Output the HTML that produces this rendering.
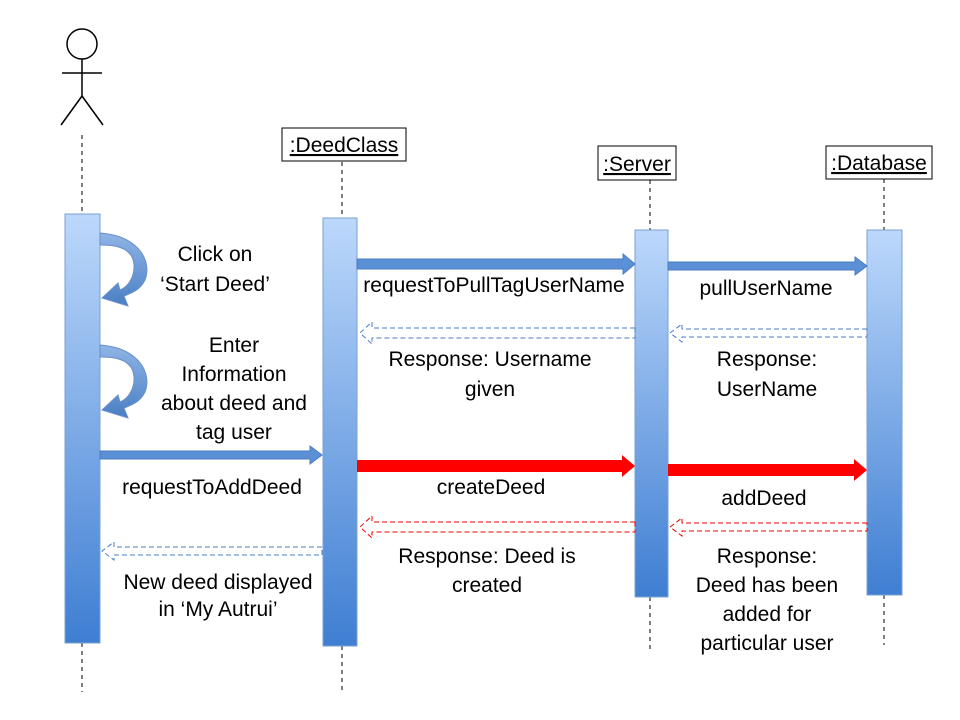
<!DOCTYPE html>
<html><head><style>
html,body{margin:0;padding:0;background:#fff;}
svg{display:block;}
text{font-family:"Liberation Sans",sans-serif;font-size:21px;fill:#000;}
</style></head><body>
<svg width="960" height="720" viewBox="0 0 960 720" xmlns="http://www.w3.org/2000/svg">
<defs>
<linearGradient id="bar" x1="0" y1="0" x2="0" y2="1">
<stop offset="0" stop-color="#bcd8fb"/><stop offset="1" stop-color="#3f7ed2"/>
</linearGradient>
<linearGradient id="arr" x1="0" y1="0" x2="0" y2="1">
<stop offset="0" stop-color="#8fb4e6"/><stop offset="1" stop-color="#4a7fc4"/>
</linearGradient>
</defs>
<!-- actor -->
<circle cx="82" cy="44" r="15" fill="#fff" stroke="#000" stroke-width="1.5"/>
<line x1="82" y1="59" x2="82" y2="96" stroke="#000" stroke-width="1.5"/>
<line x1="62" y1="73" x2="102" y2="73" stroke="#000" stroke-width="1.5"/>
<line x1="82" y1="96" x2="61" y2="125" stroke="#000" stroke-width="1.5"/>
<line x1="82" y1="96" x2="103" y2="125" stroke="#000" stroke-width="1.5"/>
<g stroke="#000" stroke-width="1" stroke-dasharray="4,4">
<line x1="82" y1="135" x2="82" y2="214"/><line x1="82" y1="643" x2="82" y2="692"/>
<line x1="342" y1="162" x2="342" y2="218"/><line x1="342" y1="646" x2="342" y2="692"/>
<line x1="650" y1="180" x2="650" y2="230"/><line x1="650" y1="597" x2="650" y2="650"/>
<line x1="884" y1="179" x2="884" y2="230"/><line x1="884" y1="595" x2="884" y2="645"/>
</g>
<!-- boxes -->
<rect x="282" y="128" width="124" height="33" fill="#fff" stroke="#000"/>
<text x="344" y="152" text-anchor="middle" text-decoration="underline">:DeedClass</text>
<rect x="598" y="146" width="78" height="34" fill="#fff" stroke="#000"/>
<text x="637" y="171" text-anchor="middle" text-decoration="underline">:Server</text>
<rect x="826" y="146" width="106" height="33" fill="#fff" stroke="#000"/>
<text x="879" y="170" text-anchor="middle" text-decoration="underline">:Database</text>
<!-- bars -->
<rect x="65" y="214" width="35" height="429" fill="url(#bar)" stroke="#7aa0d0"/>
<rect x="323" y="218" width="34" height="428" fill="url(#bar)" stroke="#7aa0d0"/>
<rect x="635" y="230" width="33" height="367" fill="url(#bar)" stroke="#7aa0d0"/>
<rect x="867" y="230" width="35" height="365" fill="url(#bar)" stroke="#7aa0d0"/>
<!-- self arrows -->
<path d="M100 233 C140 236 152 262 145 280 C140 290 132 293 124 296 L128 306 L102 298 L118 283 L120 290 C134 284 138 264 130 254 C123 246 112 245 100 245 Z" fill="url(#arr)" stroke="#6a90c8"/>
<path d="M100 345 C140 348 152 374 145 392 C140 402 132 405 124 408 L128 418 L102 410 L118 395 L120 402 C134 396 138 376 130 366 C123 358 112 357 100 357 Z" fill="url(#arr)" stroke="#6a90c8"/>
<!-- blue solid arrows -->
<polygon points="357,259 623,259 623,254 635,264 623,274 623,269 357,269" fill="#5b8fd6" stroke="#4a7cc4"/>
<polygon points="668,262 855,262 855,257 867,266 855,275 855,270 668,270" fill="#5b8fd6" stroke="#4a7cc4"/>
<polygon points="100,451 310,451 310,446 322,455 310,464 310,459 100,459" fill="#5b8fd6" stroke="#4a7cc4"/>
<!-- red solid arrows -->
<polygon points="357,460 622,460 622,455 635,466 622,477 622,472 357,472" fill="#f00"/>
<polygon points="668,464 854,464 854,459 867,470 854,481 854,476 668,476" fill="#f00"/>
<!-- dashed returns -->
<g fill="none" stroke-dasharray="5,3" stroke-width="1">
<polygon points="635,328 372,328 372,322 360,333 372,344 372,338 635,338" stroke="#4a7cc4"/>
<polygon points="867,329 682,329 682,324 670,333 682,342 682,337 867,337" stroke="#4a7cc4"/>
<polygon points="635,522 372,522 372,516 360,527 372,538 372,532 635,532" stroke="#e00"/>
<polygon points="867,523 682,523 682,518 670,527 682,536 682,531 867,531" stroke="#e00"/>
<polygon points="322,547 114,547 114,542 102,551 114,560 114,555 322,555" stroke="#4a7cc4"/>
</g>
<!-- labels -->
<g text-anchor="middle">
<text x="215" y="261">Click on</text>
<text x="215" y="291">‘Start Deed’</text>
<text x="234" y="352">Enter</text>
<text x="234" y="381">Information</text>
<text x="234" y="410">about deed and</text>
<text x="234" y="439">tag user</text>
<text x="212" y="494">requestToAddDeed</text>
<text x="218" y="589">New deed displayed</text>
<text x="218" y="616">in ‘My Autrui’</text>
<text x="494" y="292">requestToPullTagUserName</text>
<text x="766" y="295">pullUserName</text>
<text x="490" y="366">Response: Username</text>
<text x="490" y="396">given</text>
<text x="767" y="366">Response:</text>
<text x="767" y="396">UserName</text>
<text x="491" y="494">createDeed</text>
<text x="764" y="505">addDeed</text>
<text x="487" y="563">Response: Deed is</text>
<text x="487" y="592">created</text>
<text x="767" y="563">Response:</text>
<text x="767" y="592">Deed has been</text>
<text x="767" y="621">added for</text>
<text x="767" y="650">particular user</text>
</g>
</svg>
</body></html>
